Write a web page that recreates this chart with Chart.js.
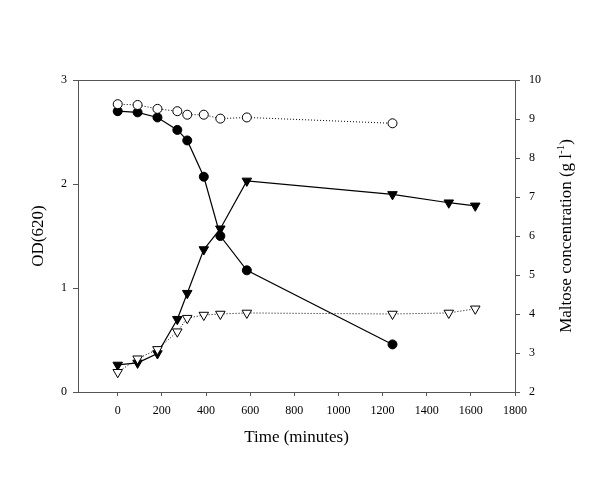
<!DOCTYPE html>
<html>
<head>
<meta charset="utf-8">
<script src="https://cdn.jsdelivr.net/npm/chart.js@4"></script>
<style>
  html, body { margin: 0; padding: 0; background: #fff; }
  #wrap { width: 600px; height: 480px; }
</style>
</head>
<body>
<div id="wrap"><canvas id="myChart" width="600" height="480"></canvas></div>
<script>
// sampling times (minutes)
const timeCircles = [0, 90, 180, 270, 315, 390, 465, 585, 1245];
const timeTriangles = [0, 90, 180, 270, 315, 390, 465, 585, 1245, 1500, 1620];

// maltose concentration (g/l), right axis
const maltoseFilled = [9.20, 9.17, 9.04, 8.72, 8.45, 7.52, 6.00, 5.12, 3.22];
const maltoseOpen = [9.38, 9.36, 9.26, 9.20, 9.11, 9.11, 9.01, 9.04, 8.89];

// OD(620), left axis
const odFilled = [0.26, 0.28, 0.37, 0.70, 0.95, 1.37, 1.57, 2.03, 1.90, 1.82, 1.79];
const odOpen = [0.19, 0.32, 0.41, 0.58, 0.71, 0.74, 0.75, 0.76, 0.75, 0.76, 0.80];

const xTicks = [0, 200, 400, 600, 800, 1000, 1200, 1400, 1600, 1800];

function pts(xs, ys) {
  return xs.map((x, i) => ({ x: x, y: ys[i] }));
}

const serif = 'Liberation Serif';

document.addEventListener('DOMContentLoaded', function() {
  if (typeof Chart === 'undefined') {
    console.error('Chart.js is not loaded');
    return;
  }

  // box round the plotting area + right axis title (reads bottom to top, with superscript)
  const frame = {
    id: 'frame',
    afterDatasetsDraw(chart) {
      const a = chart.chartArea;
      const c = chart.ctx;
      c.save();
      c.strokeStyle = '#555';
      c.lineWidth = 1;
      c.strokeRect(a.left + 0.5, a.top + 0.5, a.right - a.left, a.bottom - a.top);
      c.restore();

      const main = 'Maltose concentration (g l';
      const sup = '-1';
      const tail = ')';
      c.save();
      c.fillStyle = '#000';
      c.textBaseline = 'middle';
      c.font = '17px "' + serif + '"';
      const w1 = c.measureText(main).width;
      const w3 = c.measureText(tail).width;
      c.font = '11px "' + serif + '"';
      const w2 = c.measureText(sup).width;
      const total = w1 + w2 + w3;
      c.translate(567, (a.top + a.bottom) / 2);
      c.rotate(-Math.PI / 2);
      let x = -total / 2;
      c.font = '17px "' + serif + '"';
      c.textAlign = 'left';
      c.fillText(main, x, 0);
      x += w1;
      c.font = '11px "' + serif + '"';
      c.fillText(sup, x, -6);
      x += w2;
      c.font = '17px "' + serif + '"';
      c.fillText(tail, x, 0);
      c.restore();
    }
  };

  const ctx = document.getElementById('myChart');
  new Chart(ctx, {
    type: 'scatter',
    data: {
      datasets: [
        {
          label: 'OD open',
          data: pts(timeTriangles, odOpen),
          yAxisID: 'y',
          showLine: true,
          borderColor: '#000',
          borderWidth: 1,
          borderDash: [1, 2],
          pointStyle: 'triangle',
          rotation: 180,
          pointRadius: 5.5,
          pointBackgroundColor: '#fff',
          pointBorderColor: '#000',
          pointBorderWidth: 1
        },
        {
          label: 'Maltose open',
          data: pts(timeCircles, maltoseOpen),
          yAxisID: 'y2',
          showLine: true,
          borderColor: '#000',
          borderWidth: 1,
          borderDash: [1, 2],
          pointStyle: 'circle',
          pointRadius: 4.5,
          pointBackgroundColor: '#fff',
          pointBorderColor: '#000',
          pointBorderWidth: 1
        },
        {
          label: 'OD filled',
          data: pts(timeTriangles, odFilled),
          yAxisID: 'y',
          showLine: true,
          borderColor: '#000',
          borderWidth: 1.2,
          pointStyle: 'triangle',
          rotation: 180,
          pointRadius: 5.5,
          pointBackgroundColor: '#000',
          pointBorderColor: '#000',
          pointBorderWidth: 1
        },
        {
          label: 'Maltose filled',
          data: pts(timeCircles, maltoseFilled),
          yAxisID: 'y2',
          showLine: true,
          borderColor: '#000',
          borderWidth: 1.2,
          pointStyle: 'circle',
          pointRadius: 4.5,
          pointBackgroundColor: '#000',
          pointBorderColor: '#000',
          pointBorderWidth: 1
        }
      ]
    },
    options: {
      responsive: false,
      animation: false,
      layout: { padding: { top: 80, left: 0, right: 0, bottom: 0 } },
      plugins: { legend: { display: false }, tooltip: { enabled: false } },
      scales: {
        x: {
          type: 'linear',
          min: -180,
          max: 1800,
          afterBuildTicks: s => { s.ticks = xTicks.map(v => ({ value: v })); },
          afterFit: s => { s.height = 88; },
          grid: { drawOnChartArea: false, drawTicks: true, tickLength: 4, color: '#555' },
          border: { display: true, color: '#555' },
          ticks: {
            color: '#000',
            font: { family: serif, size: 12 },
            padding: 8,
            maxRotation: 0,
            callback: v => String(v)
          },
          title: {
            display: true,
            text: 'Time (minutes)',
            color: '#000',
            font: { family: serif, size: 17 },
            padding: { top: 0, bottom: 32 }
          }
        },
        y: {
          position: 'left',
          min: 0,
          max: 3,
          ticks: { stepSize: 1, color: '#000', font: { family: serif, size: 12 }, padding: 6 },
          afterFit: s => { s.width = 78; },
          grid: { drawOnChartArea: false, drawTicks: true, tickLength: 5, color: '#555' },
          border: { display: true, color: '#555' },
          title: {
            display: true,
            text: 'OD(620)',
            color: '#000',
            font: { family: serif, size: 17 },
            padding: { top: 28, bottom: 0 }
          }
        },
        y2: {
          position: 'right',
          min: 2,
          max: 10,
          ticks: { stepSize: 1, color: '#000', font: { family: serif, size: 12 }, padding: 9 },
          afterFit: s => { s.width = 85; },
          grid: { drawOnChartArea: false, drawTicks: true, tickLength: 5, color: '#555' },
          border: { display: true, color: '#555' }
        }
      }
    },
    plugins: [frame]
  });
});
</script>
</body>
</html>
